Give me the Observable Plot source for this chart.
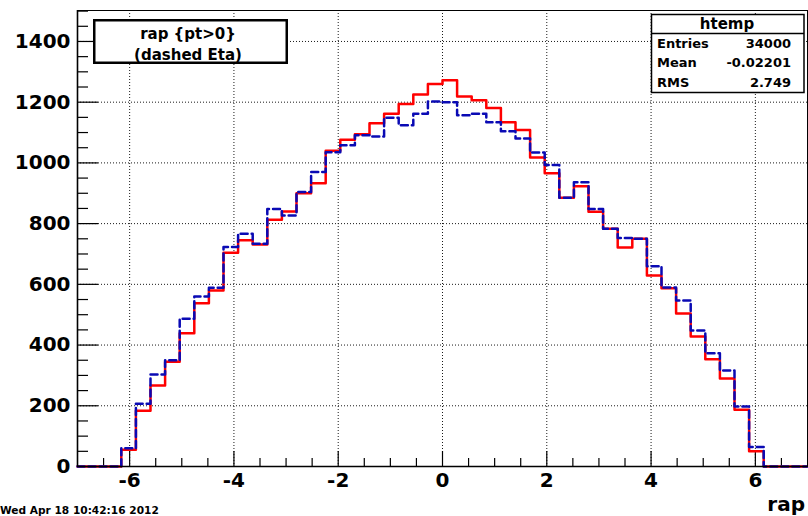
<!DOCTYPE html>
<html>
<head>
<meta charset="utf-8">
<script src="https://cdn.jsdelivr.net/npm/d3@7"></script>
<script src="https://cdn.jsdelivr.net/npm/@observablehq/plot@0.6"></script>
<style>
  html, body { margin: 0; padding: 0; background: #fff; }
  #chart { width: 808px; height: 516px; overflow: hidden; }
  #chart svg { display: block; }
</style>
</head>
<body>
<div id="chart"></div>
<script>
// Histogram binning (htemp): 50 bins between -7 and 7
const binLow = -7;
const binHigh = 7;
const binCount = 50;

// Bin contents, solid red: rapidity of particles with pt > 0
const rapCounts = [
  0, 0, 0, 55, 184, 267, 345, 439, 538, 580,
  704, 745, 731, 813, 840, 900, 933, 1040, 1076, 1094,
  1131, 1162, 1194, 1225, 1260, 1272, 1219, 1206, 1181, 1134,
  1108, 1018, 966, 885, 923, 839, 783, 721, 750, 629,
  587, 504, 428, 353, 290, 187, 50, 0, 0, 0
];

// Bin contents, dashed blue: pseudorapidity (Eta)
const etaCounts = [
  0, 0, 0, 60, 207, 303, 350, 487, 560, 589,
  723, 767, 734, 848, 827, 904, 970, 1035, 1058, 1091,
  1087, 1149, 1124, 1162, 1202, 1200, 1157, 1162, 1134, 1104,
  1080, 1034, 993, 885, 936, 848, 783, 753, 750, 660,
  590, 547, 448, 373, 316, 198, 64, 0, 0, 0
];

// Axis ticks and labels
const xMajorTicks = [-6, -4, -2, 0, 2, 4, 6];
const xMinorTicks = [-6.5, -5.5, -5, -4.5, -3.5, -3, -2.5, -1.5, -1, -0.5,
                     0.5, 1, 1.5, 2.5, 3, 3.5, 4.5, 5, 5.5, 6.5];
const yMajorTicks = [0, 200, 400, 600, 800, 1000, 1200, 1400];
const yMinorTicks = [50, 100, 150, 250, 300, 350, 450, 500, 550, 650, 700, 750,
                     850, 900, 950, 1050, 1100, 1150, 1250, 1300, 1350, 1450, 1500];
const yTop = 1502;

// Text annotations
const axisTitle = "rap";
const legendLines = ["rap {pt>0}", "(dashed Eta)"];
const statsTitle = "htemp";
const statsNames = ["Entries", "Mean", "RMS"];
const statsValues = ["34000", "-0.02201", "2.749"];
const dateStamp = "Wed Apr 18 10:42:16 2012";

// Turn bin contents into step vertices (left edge of every bin, plus the last right edge)
function stepPoints(counts) {
  const w = (binHigh - binLow) / binCount;
  const pts = counts.map((c, i) => ({edge: binLow + i * w, count: c}));
  pts.push({edge: binHigh, count: counts[counts.length - 1]});
  return pts;
}

const W = 808, H = 516;
const mL = 77, mR = 1, mT = 10, mB = 50;
const frameW = W - mL - mR, frameH = H - mT - mB;
const grid = {stroke: "#1a1a1a", strokeWidth: 1, strokeDasharray: "1,2"};
const font = "'DejaVu Sans', sans-serif";

const svg = Plot.plot({
  width: W,
  height: H,
  marginLeft: mL,
  marginRight: mR,
  marginTop: mT,
  marginBottom: mB,
  x: {domain: [binLow, binHigh], ticks: xMajorTicks, tickSize: 0, tickPadding: 6,
      tickFormat: d => String(d), label: null},
  y: {domain: [0, yTop], ticks: yMajorTicks, tickSize: 0, tickPadding: 7,
      tickFormat: d => String(d), label: null},
  style: {background: "white", color: "black", fontFamily: font, fontWeight: "bold",
          fontSize: "20px", overflow: "visible"},
  marks: [
    // dotted grid
    Plot.ruleX(xMajorTicks, grid),
    Plot.ruleY(yMajorTicks.filter(v => v > 0), grid),
    // inward tick marks
    Plot.ruleX(xMajorTicks, {stroke: "black", strokeWidth: 1.2, insetTop: frameH - 15}),
    Plot.ruleX(xMinorTicks, {stroke: "black", strokeWidth: 1.2, insetTop: frameH - 8}),
    Plot.ruleY(yMajorTicks, {stroke: "black", strokeWidth: 1.2, insetRight: frameW - 21}),
    Plot.ruleY(yMinorTicks, {stroke: "black", strokeWidth: 1.2, insetRight: frameW - 11}),
    // histograms
    Plot.line(stepPoints(rapCounts), {x: "edge", y: "count", curve: "step-after",
      stroke: "#ff0000", strokeWidth: 2.5}),
    Plot.line(stepPoints(etaCounts), {x: "edge", y: "count", curve: "step-after",
      stroke: "#0a0ab4", strokeWidth: 2.5, strokeDasharray: "7,4"}),
    // frame and axis lines
    Plot.frame({stroke: "black", strokeWidth: 1}),
    Plot.ruleX([binLow], {stroke: "black", strokeWidth: 1.6}),
    Plot.ruleY([0], {stroke: "black", strokeWidth: 1.6})
  ]
});

const s = d3.select(svg);
const deco = s.append("g").attr("font-family", font).attr("font-weight", "bold")
  .attr("fill", "black").attr("text-anchor", "start");

// axis title and date stamp
deco.append("text").attr("x", 805).attr("y", 511).attr("text-anchor", "end")
  .attr("font-size", 20).text(axisTitle);
deco.append("text").attr("x", 0).attr("y", 514).attr("text-anchor", "start")
  .attr("font-size", 10.6).text(dateStamp);

// legend box
const lg = deco.append("g");
lg.append("rect").attr("x", 94.25).attr("y", 20.25).attr("width", 192.5).attr("height", 42.5)
  .attr("fill", "white").attr("stroke", "black").attr("stroke-width", 2.5);
legendLines.forEach((t, i) => {
  lg.append("text").attr("x", 188).attr("y", 39 + i * 21).attr("text-anchor", "middle")
    .attr("font-size", 15).text(t);
});

// statistics box
const st = deco.append("g");
st.append("rect").attr("x", 651.5).attr("y", 14.5).attr("width", 152.5).attr("height", 78)
  .attr("fill", "white").attr("stroke", "black").attr("stroke-width", 1.5);
st.append("line").attr("x1", 651.5).attr("x2", 804).attr("y1", 33.5).attr("y2", 33.5)
  .attr("stroke", "black").attr("stroke-width", 1.5);
st.append("text").attr("x", 727).attr("y", 28.5).attr("text-anchor", "middle")
  .attr("font-size", 15).text(statsTitle);
statsNames.forEach((n, i) => {
  const y = 48 + i * 19.3;
  st.append("text").attr("x", 657).attr("y", y).attr("text-anchor", "start")
    .attr("font-size", 13).text(n);
  st.append("text").attr("x", 791).attr("y", y).attr("text-anchor", "end")
    .attr("font-size", 13).text(statsValues[i]);
});

document.getElementById("chart").appendChild(svg);
</script>
</body>
</html>
